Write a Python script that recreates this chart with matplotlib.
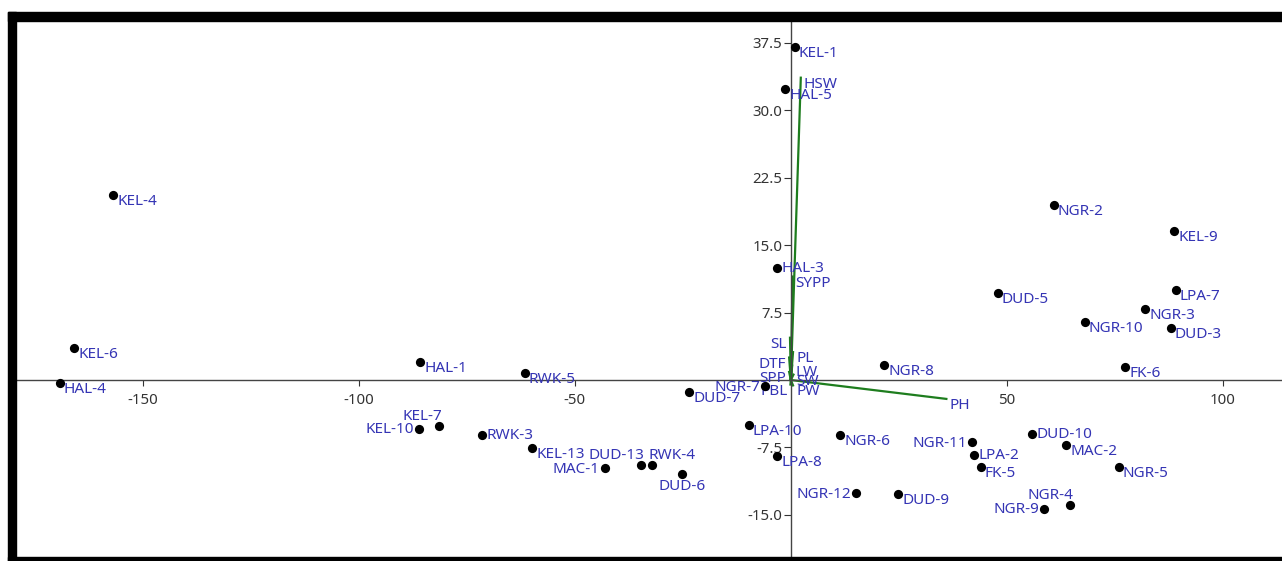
import matplotlib
matplotlib.use("Agg")
import matplotlib.pyplot as plt
from matplotlib.patches import Rectangle

plt.rcParams['font.family'] = ['Noto Sans', 'DejaVu Sans']

# scores (PC1, PC2)
names = ['KEL-4', 'KEL-1', 'HAL-5', 'NGR-2', 'KEL-9', 'HAL-3', 'KEL-6', 'HAL-4',
         'HAL-1', 'RWK-5', 'KEL-10', 'KEL-7', 'RWK-3', 'KEL-13', 'MAC-1', 'DUD-13',
         'RWK-4', 'DUD-6', 'DUD-7', 'NGR-7', 'LPA-10', 'LPA-8', 'DUD-5', 'LPA-7',
         'NGR-3', 'NGR-10', 'DUD-3', 'NGR-8', 'FK-6', 'NGR-6', 'NGR-11', 'DUD-10',
         'MAC-2', 'LPA-2', 'FK-5', 'NGR-5', 'NGR-12', 'DUD-9', 'NGR-9', 'NGR-4']
pc1 = [-156.9, 0.9, -1.3, 60.9, 88.7, -3.2, -165.9, -169.2,
       -85.8, -61.6, -86.1, -81.5, -71.4, -59.9, -43.1, -34.7,
       -32.2, -25.2, -23.5, -5.9, -9.7, -3.1, 47.9, 89.1,
       82.0, 68.0, 87.9, 21.6, 77.4, 11.4, 41.9, 55.9,
       63.7, 42.5, 44.0, 75.9, 15.0, 24.9, 58.7, 64.6]
pc2 = [20.6, 37.0, 32.3, 19.5, 16.6, 12.5, 3.6, -0.3,
       2.0, 0.8, -5.4, -5.1, -6.1, -7.6, -9.8, -9.5,
       -9.4, -10.5, -1.3, -0.7, -5.0, -8.5, 9.7, 10.0,
       7.85, 6.4, 5.8, 1.7, 1.5, -6.1, -6.9, -6.0,
       -7.2, -8.3, -9.7, -9.7, -12.6, -12.7, -14.3, -13.9]

# loadings (scaled)
traits = ['HSW', 'SYPP', 'SL', 'DTF', 'PL', 'LW', 'SW', 'SPP', 'PBL', 'PW', 'PH']
load1 = [2.3, 0.4, -0.2, -0.4, 0.5, 0.3, 0.6, -0.4, -0.1, 0.5, 36.0]
load2 = [33.6, 11.5, 4.7, 2.5, 3.1, 1.6, 0.6, 0.9, -0.5, -0.6, -2.1]

xticks = [-150, -100, -50, 50, 100]
yticks = [-15.0, -7.5, 7.5, 15.0, 22.5, 30.0, 37.5]

# label placement (offset px, ha, va); default is right/below the dot
place = {
    'r': ((4, 1), 'left', 'top'),
    'rc': ((4, -1), 'left', 'center'),
    'l': ((-5, -1), 'right', 'center'),
    'ul': ((3, 2), 'right', 'bottom'),
    'ur': ((-3, 2), 'left', 'bottom'),
    'b': ((0, -5), 'center', 'top'),
}
label_pos = {'KEL-10': 'l', 'MAC-1': 'l', 'NGR-7': 'l', 'NGR-11': 'l',
             'NGR-12': 'l', 'NGR-9': 'l', 'KEL-7': 'ul', 'DUD-13': 'ul',
             'NGR-4': 'ul', 'RWK-4': 'ur', 'DUD-6': 'b', 'HAL-3': 'rc',
             'RWK-3': 'rc', 'LPA-2': 'rc', 'DUD-10': 'rc'}

W, H = 1282, 561
fig = plt.figure(figsize=(W / 100, H / 100), dpi=100)
ax = fig.add_axes([15.5 / W, 4 / H, (W - 15.5) / W, (557 - 21) / H])

# thick black frame (screenshot border)
for (x0, y0, w, h) in [(8, 12, W - 8, 9), (8, 12, 7.5, H - 12), (8, 557, W - 8, 4)]:
    fig.patches.append(Rectangle((x0 / W, 1 - (y0 + h) / H), w / W, h / H,
                                 transform=fig.transFigure, color='black', zorder=10))

blue = '#3434b4'
green = '#1e7d1e'
fs = 11

for x, y in zip(load1, load2):
    ax.plot([0, x], [0, y], color=green, lw=1.6, zorder=2)
for t, x, y in zip(traits, load1, load2):
    if x >= 0:
        ax.annotate(t, (x, y), xytext=(3, 1), textcoords='offset pixels',
                    ha='left', va='top', color=blue, fontsize=fs)
    else:
        ax.annotate(t, (x, y), xytext=(-3, 1), textcoords='offset pixels',
                    ha='right', va='top', color=blue, fontsize=fs)

ax.scatter(pc1, pc2, s=44, color='black', zorder=3, linewidths=0)
for n, x, y in zip(names, pc1, pc2):
    off, ha, va = place[label_pos.get(n, 'r')]
    ax.annotate(n, (x, y), xytext=off, textcoords='offset pixels',
                ha=ha, va=va, color=blue, fontsize=fs, zorder=4)

ax.set_xlim(-179.5, 113.7)
ax.set_ylim(-19.67, 39.9)

ax.spines['left'].set_position(('data', 0))
ax.spines['bottom'].set_position(('data', 0))
ax.spines['right'].set_visible(False)
ax.spines['top'].set_visible(False)
for s in ['left', 'bottom']:
    ax.spines[s].set_color('#444444')
    ax.spines[s].set_linewidth(1.0)

ax.set_xticks(xticks)
ax.set_xticklabels([str(v) for v in xticks])
ax.set_yticks(yticks)
ax.set_yticklabels(['%.1f' % v for v in yticks])
ax.tick_params(axis='x', direction='out', length=4, pad=5, labelsize=10.8,
               colors='#333333')
ax.tick_params(axis='y', direction='out', length=5, pad=1, labelsize=10.8,
               colors='#333333')
ax.patch.set_alpha(0)

fig.savefig('out.png', dpi=100)
